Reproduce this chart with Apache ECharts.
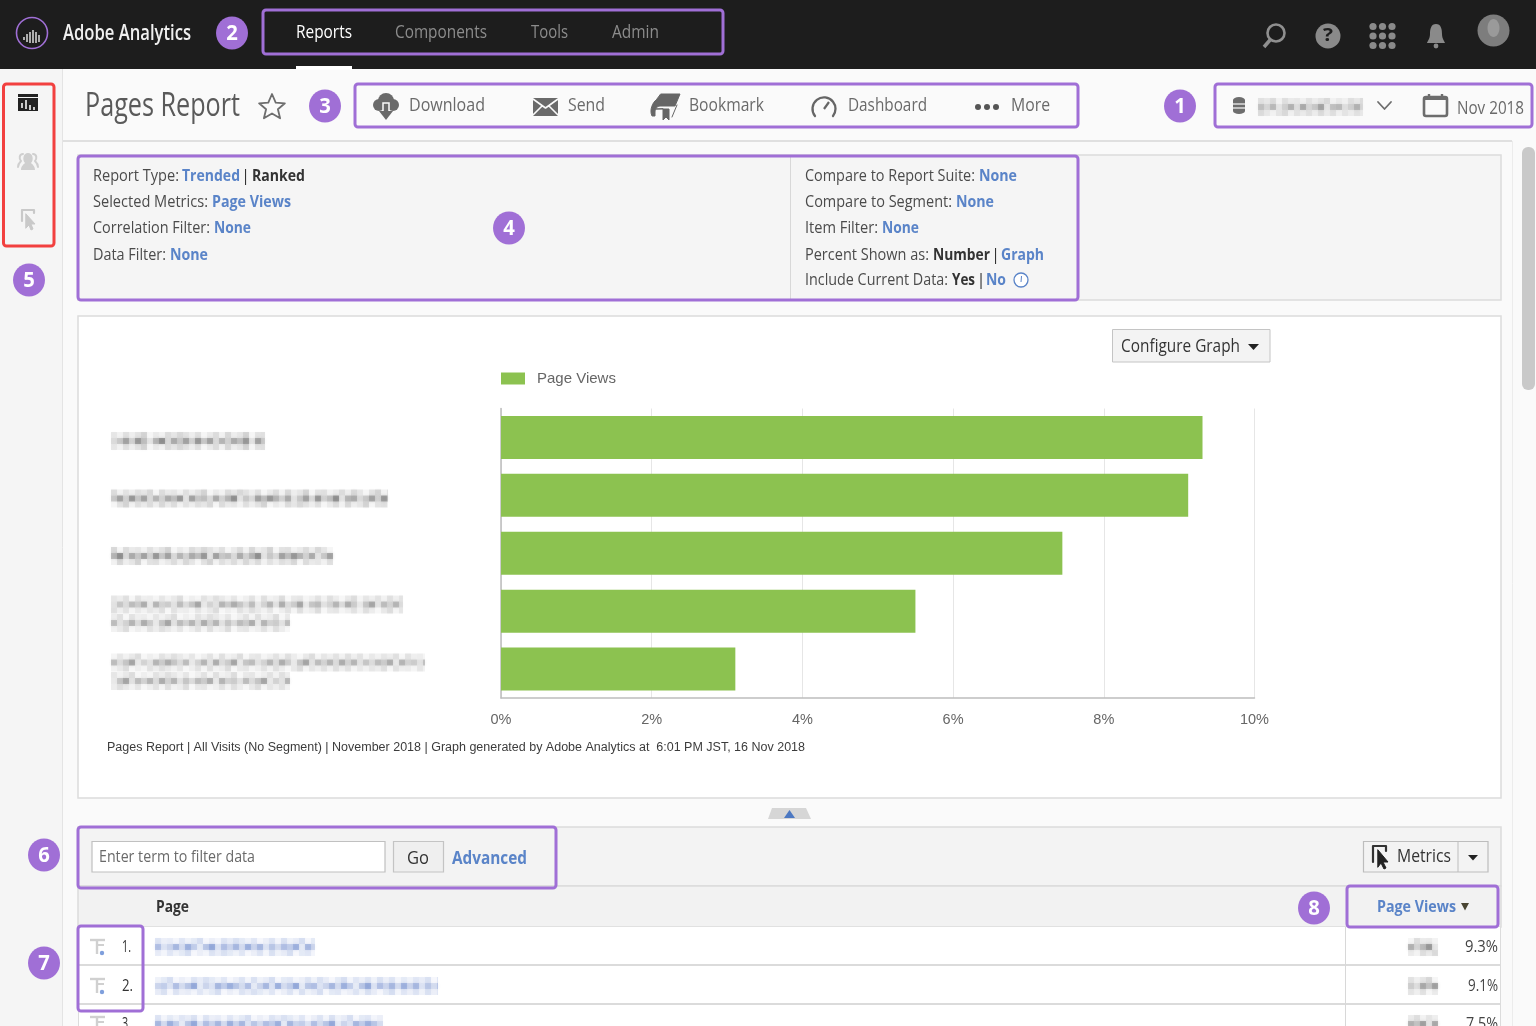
<!DOCTYPE html>
<html><head><meta charset="utf-8">
<style>html,body{margin:0;padding:0;background:#fafafa;overflow:hidden}#c{width:1536px;height:1026px}</style>
<script src="https://cdn.jsdelivr.net/npm/echarts@6/dist/echarts.min.js"></script>
</head><body><div id="c"></div>
<script>
// ---- chart data ----
const categories = ['Page 1','Page 2','Page 3','Page 4','Page 5'];
const pageViews = [9.31, 9.12, 7.45, 5.5, 3.11];
const xTicks = [0, 2, 4, 6, 8, 10];
const seriesName = 'Page Views';
const footerText = 'Pages Report | All Visits (No Segment) | November 2018 | Graph generated by Adobe Analytics at  6:01 PM JST, 16 Nov 2018';
const navItems = ['Reports','Components','Tools','Admin'];
const toolbarItems = ['Download','Send','Bookmark','Dashboard','More'];
const tableShares = ['9.3%','9.1%','7.5%'];
const tableRanks = ['1.','2.','3.'];

const PURPLE='#a06fd6', BLUE='#5a84c8', GREEN='#8cc250', DARK='#1d1d1d', TXT='#4b4b4b', GREY='#6a6a6a';
const SANS='"Open Sans","Noto Sans",sans-serif', ARIAL='"Liberation Sans",Arial,sans-serif';
const g=[];
const ctx=document.createElement('canvas').getContext('2d');
function T(s,x0,x1,y,size,fill,opt){
  opt=opt||{};const fam=opt.fam||SANS,wt=opt.wt||'normal';
  ctx.font=wt+' '+size+'px '+fam;
  const sx=x1?(x1-x0)/ctx.measureText(s).width:1;
  g.push({type:'text',silent:true,z:opt.z||5,x:x0,y:y+1.8,scaleX:sx,style:{text:s,x:0,y:0,fontSize:size,fontFamily:fam,fontWeight:wt,fill:fill,
    align:'left',textAlign:'left',verticalAlign:'middle',textVerticalAlign:'middle',textBaseline:'middle'}});
}
function R(x0,y0,x1,y1,fill,stroke,opt){
  opt=opt||{};
  g.push({type:'rect',silent:true,z:opt.z==null?1:opt.z,shape:{x:x0,y:y0,width:x1-x0,height:y1-y0,r:opt.r||0},
    style:{fill:fill||'none',stroke:stroke||'none',lineWidth:opt.lw||1,opacity:opt.op==null?1:opt.op}});
}
function C(cx,cy,r,fill,stroke,lw,z){g.push({type:'circle',silent:true,z:z||4,shape:{cx,cy,r},style:{fill:fill||'none',stroke:stroke||'none',lineWidth:lw||1}});}
let shapeId=0;
function P(d,fill,stroke,lw,z){
  const name='iconShape'+(shapeId++);
  echarts.graphic.registerShape(name,echarts.graphic.extendPath(d,{}));
  g.push({type:name,silent:true,z:z||4,style:{fill:fill||'none',stroke:stroke||'none',lineWidth:lw||1,lineJoin:'round',lineCap:'round'}});
}
function L(x0,y0,x1,y1,c,lw,z){g.push({type:'line',silent:true,z:z||2,shape:{x1:x0,y1:y0,x2:x1,y2:y1},style:{stroke:c,lineWidth:lw||1}});}
function E(cx,cy,rx,ry,fill,z){g.push({type:'ellipse',silent:true,z:z||4,shape:{cx,cy,rx,ry},style:{fill}});}
function badge(cx,cy,n){
  E(cx,cy,16,16.5,PURPLE,6);
  g.push({type:'text',silent:true,z:7,x:cx,y:cy+0.5,scaleX:0.92,style:{text:n,x:0,y:0,fontSize:22,fontWeight:'bold',fontFamily:SANS,fill:'#fff',align:'center',textAlign:'center',verticalAlign:'middle',textVerticalAlign:'middle',textBaseline:'middle'}});
}
function box(x0,y0,x1,y1,c){R(x0,y0,x1,y1,null,c||PURPLE,{lw:3,r:3,z:6});}
const LV='0123456789';
const PAT='3715264807341625903174852603718249056137284059163728';
function mosaic(x0,x1,yc,rgb,strength){
  // illegible, pixel-blurred text in the reference: small soft cells
  const cw=6,ch=6;let k=(x0*7+Math.round(yc))%17;
  [[-1,0.15],[0,0.37],[1,0.15]].forEach(([r,a])=>{
    for(let x=x0;x<x1;x+=cw){
      const v=LV.indexOf(PAT[(k++)%PAT.length])/9;
      const op=(a*(0.35+v*1.0))*(strength||1);
      const col='rgba('+rgb+','+op.toFixed(3)+')';
      g.push({type:'rect',silent:true,z:3,shape:{x:x,y:yc+r*ch-ch/2,width:Math.min(cw,x1-x),height:ch},
        style:{fill:col,shadowBlur:3,shadowColor:col}});
    }
  });
}

// ---- page chrome ----
R(0,0,1536,1026,'#fafafa',null,{z:-5});
R(0,69,62,1026,'#f5f5f5',null,{z:-4});
L(62.5,69,62.5,1026,'#e4e4e4',1,-3);
L(63,141,1512,141,'#e0e0e0',2,-3);
L(1512.5,141,1512.5,1026,'#ececec',1,-3);
R(1522,147,1535,390,'#c9c9c9',null,{r:6,z:-3});
R(0,0,1536,69,DARK,null,{z:-3});
// logo
C(32,33,15.5,null,PURPLE,1.6);
[[24,37,4],[27,34,9],[30,32,12],[33,30,14],[36,32,12],[39,35,8]].forEach(a=>L(a[0],a[1],a[0],a[1]+a[2]-1,'#dedede',1.5,4));
T('Adobe Analytics',63,191,32.5,21,'#f0f0f0',{wt:'600'});
T(navItems[0],296,352,31,18,'#fff');
T(navItems[1],395,487,31,18,'#8c8c8c');
T(navItems[2],531,568,31,18,'#8c8c8c');
T(navItems[3],612,659,31,18,'#8c8c8c');
R(296,66,352,69.5,'#fff',null,{z:3});
// top right icons
C(1276,33,8.5,null,'#8f8f8f',2.6);L(1270,40,1264,47,'#8f8f8f',3.5,4);
C(1328,36,12.5,'#8a8a8a');T('?',1323,1333,34.5,18,DARK,{wt:'bold'});
[0,1,2].forEach(i=>[0,1,2].forEach(j=>C(1373+i*9.5,26.5+j*9.5,3.6,'#8a8a8a')));
P('M1436 24c-5 0-6 5-6 10 0 5-3 8-3 9h18c0-1-3-4-3-9 0-5-1-10-6-10z','#8a8a8a');C(1436,46,2.4,'#8a8a8a');
E(1493.5,30.5,16,16,'#7d7d7d',4);
E(1493.5,28,6,9,'#9a9a9a',4);

// left rail icons
R(18,94,38,97,'#222',null,{z:4});
P('M18 98h20v13h-20z','#222');
[[22,103,108],[26,100,109],[30,105,110],[34,107,110]].forEach(a=>L(a[0],a[1],a[0],a[2],'#f5f5f5',1.6,5));
P('M21 170c0-4 3-6 4-7-3-3-2-10 3-10 5 0 6 7 3 10 1 1 4 3 4 7z','#cfcfcf');
P('M18 167c0-3 2-5 3-6-2-2-2-7 2-7','none','#cfcfcf',2);
P('M38 167c0-3-2-5-3-6 2-2 2-7-2-7','none','#cfcfcf',2);
P('M22 221v-11h12v3','none','#c9c9c9',2.2);
P('M26 214l9 10-4 0 2 5-2 1-2-5-3 3z','#c9c9c9','#c9c9c9',1);

// header
T('Pages Report',85,240,105,32,'#5a5a5a');
P('M272 94l3.7 8.6 9.2.7-7 6 2.2 9-8.1-4.9-8.1 4.9 2.2-9-7-6 9.2-.7z',null,'#6d6d6d',1.8);
// toolbar icons
C(386,101,8,GREY);C(379,105,6,GREY);C(393,105,6,GREY);
R(383,103,389,113,GREY,'#fafafa',{z:4,lw:1.5});P('M379 111h14l-7 9z',GREY);
P('M533 98h25v18h-25z',GREY);P('M533 99l12.5 9 12.5-9M533 115l9-9M558 115l-9-9','none','#fafafa',1.6,5);
P('M661 94h19l-5 12h-15c-3 0-5 3-5 6v4h-3c-3-6 1-14 4-16zM656 109h13v11l-3-3-3 3v-11zM677 105l-5 12','#666','#666',1);
P('M815 116a11.5 11.5 0 1 1 18 0',null,'#666',2.3);L(824,109,829,102,'#666',2.2,4);
[978,987,996].forEach(x=>C(x,107,3,'#555'));
const tb=[[409,485],[568,605],[689,764],[848,927],[1011,1050]];
toolbarItems.forEach((s,i)=>T(s,tb[i][0],tb[i][1],104,19,GREY));
// suite + date
P('M1233 100a6 3 0 0 1 12 0v11a6 3 0 0 1-12 0z','#6d6d6d');L(1233,104,1245,104,'#fafafa',1.2,5);L(1233,108,1245,108,'#fafafa',1.2,5);
mosaic(1258,1363,107,'90,90,90',0.9);
P('M1378 102l6.5 7 6.5-7',null,'#6d6d6d',1.8);
R(1424,97,1447,116,null,'#6d6d6d',{lw:2.6,r:2,z:4});R(1424,97,1447,100,'#6d6d6d',null,{z:4});
L(1429,94,1429,99,'#6d6d6d',2.4,4);L(1442,94,1442,99,'#6d6d6d',2.4,4);
T('Nov 2018',1457,1524,107,18.5,GREY);

// info panel
R(78,155,1501,300,'#f5f5f5','#dcdcdc',{z:-2,lw:1.5});
L(790.5,156,790.5,299,'#d8d8d8',1,-1);
const info=[
 [['Report Type:',93,179,174.5],['Trended',182,240,174.5,1],['|',241,0,174.5,2],['Ranked',252,305,174.5,2]],
 [['Selected Metrics:',93,208,200.5],['Page Views',212,291,200.5,1]],
 [['Correlation Filter:',93,210,226.5],['None',214,251,226.5,1]],
 [['Data Filter:',93,166,253.5],['None',170,208,253.5,1]],
 [['Compare to Report Suite:',805,975,174.5],['None',979,1017,174.5,1]],
 [['Compare to Segment:',805,952,200.5],['None',956,994,200.5,1]],
 [['Item Filter:',805,878,226.5],['None',882,919,226.5,1]],
 [['Percent Shown as:',805,929,253.5],['Number',933,990,253.5,2],['|',991,0,253.5,2],['Graph',1001,1044,253.5,1]],
 [['Include Current Data:',805,948,278.5],['Yes',952,975,278.5,2],['|',976.5,0,278.5,2],['No',986,1006,278.5,1]]
];
info.forEach(line=>line.forEach(s=>{
  const kind=s[4]||0;
  T(s[0],s[1],s[2],s[3],16.5,kind==1?BLUE:kind==2?'#333':TXT,{wt:kind&&s[0]!='|'?'bold':'normal'});
}));
C(1021,280,7,'#fff',BLUE,1.3);L(1021.5,276,1021,282,BLUE,1,5);

// chart panel
R(78,316,1501,798,'#fff','#dcdcdc',{z:-2,lw:1.5});
R(1112.5,329.5,1270,362,'#f3f3f3','#c4c4c4',{z:-1});
T('Configure Graph',1121,1240,345,18.5,'#333');
P('M1248 344h11l-5.5 6z','#222');
mosaic(111,265,441,'70,70,70');
mosaic(111,388,498.5,'70,70,70');
mosaic(111,333,556,'70,70,70');
mosaic(111,403,604.5,'70,70,70',0.8);mosaic(111,290,623,'70,70,70',0.8);
mosaic(111,425,662.5,'70,70,70',0.8);mosaic(111,290,681,'70,70,70',0.8);
T(footerText,107,805,746,12.5,'#3c3c3c',{fam:ARIAL});

// collapse tab
P('M772 808h34l5 11h-43z','#d6d6d6');P('M789.5 810l5.5 8h-11z','#4c78c2');

// filter bar
R(78,827,1501,886,'#f3f3f3','#dcdcdc',{z:-2,lw:1.5});
R(92,841.5,385,872,'#fff','#c0c0c0',{z:1,lw:1.2});
T('Enter term to filter data',99,255,855.5,17,GREY);
R(393.5,841.5,443.5,872,'#efefef','#c4c4c4',{z:1,lw:1.2});
T('Go',407,429,857,18,'#333');
T('Advanced',452,527,857,18.5,BLUE,{wt:'bold'});
R(1363.5,841.5,1488,872,'#f3f3f3','#bdbdbd',{z:1,lw:1.2});
L(1458,842,1458,872,'#bdbdbd',1,2);
P('M1373 862v-16h13v5','none','#333',2.2);P('M1378 850l10 12-5 0 3 6-2 1-3-6-3 4z','#222','#222',1);
T('Metrics',1397,1451,855.5,17.5,'#333');
P('M1468 855h10l-5 5.5z','#222');

// table
R(78,886,1501,927,'#f2f2f2','#dcdcdc',{z:-2,lw:1.5});
R(78,927,1501,1030,'#fff',null,{z:-2});
L(78,965,1501,965,'#cfcfcf',1.6,2);L(78,1004,1501,1004,'#cfcfcf',1.6,2);
L(78.5,927,78.5,1026,'#dcdcdc',1,2);L(1500.5,927,1500.5,1026,'#dcdcdc',1,2);
L(1345.5,927,1345.5,1026,'#d8d8d8',1,2);
T('Page',156,189,905,16.5,'#333',{wt:'bold'});
T('Page Views',1377,1456,905,16.5,BLUE,{wt:'bold'});
P('M1461 903h8l-4 7.5z','#4a4632');
const rowY=[946,985,1023], rowX=[[122,131],[122,133],[122,131]], rowM=[[155,315],[155,438],[155,383]];
const shareX=[1465,1468,1466];
tableRanks.forEach((s,i)=>{
  const y=rowY[i];
  T(s,rowX[i][0],rowX[i][1],y-0.5,16,'#333');
  T(tableShares[i],shareX[i],1498,y-0.5,16,'#444');
  L(90,y-6,105,y-6,'#d0d0d0',2.4,4);L(97,y-6,97,y+8,'#d0d0d0',2.4,4);L(97,y-1,104,y-1,'#d0d0d0',2,4);
  C(102,y+7,2.2,'#7f9fdc');
  mosaic(rowM[i][0],rowM[i][1],y+1,'70,105,190',0.95);
  mosaic(1408,1438,y+1,'100,100,100',1.1);
});

// annotation boxes
box(263,10,723,54);box(355,84,1078,127);box(1215,84,1532,127);
box(78,156,1078,300);box(78,827,556,888);box(78,926,143,1011);box(1347,886,1498,927);
box(3.5,84,54,246,'#f2403f');
badge(232,33,'2');badge(325,106,'3');badge(1180,106,'1');badge(509,228,'4');
badge(29,280,'5');badge(44,855,'6');badge(44,963,'7');badge(1314,908,'8');

const chart=echarts.init(document.getElementById('c'),null,{renderer:'canvas',width:1536,height:1026});
chart.setOption({
  animation:false,
  backgroundColor:'transparent',
  graphic:{elements:g},
  legend:{show:true,left:496,top:366,itemWidth:24,itemHeight:12,itemGap:8,icon:'rect',data:[seriesName],
    textStyle:{fontFamily:ARIAL,fontSize:15,color:'#666',padding:[0,0,0,7]},z:6},
  grid:{left:501,right:281.5,top:408.5,height:289.5,containLabel:false,z:2},
  xAxis:{type:'value',min:0,max:10,interval:2,
    axisLine:{show:true,lineStyle:{color:'#bdbdbd',width:1.5}},axisTick:{show:false},
    splitLine:{show:true,lineStyle:{color:'#e6e6e6',width:1}},
    axisLabel:{formatter:v=>v+'%',fontFamily:ARIAL,fontSize:14.5,color:'#666',margin:14}},
  yAxis:{type:'category',data:categories,inverse:true,
    axisLine:{show:true,lineStyle:{color:'#bdbdbd',width:1.5}},axisTick:{show:false},axisLabel:{show:false},splitLine:{show:false}},
  series:[{type:'bar',name:seriesName,data:pageViews,barWidth:43,itemStyle:{color:GREEN},z:3,silent:true}]
});
</script></body></html>
